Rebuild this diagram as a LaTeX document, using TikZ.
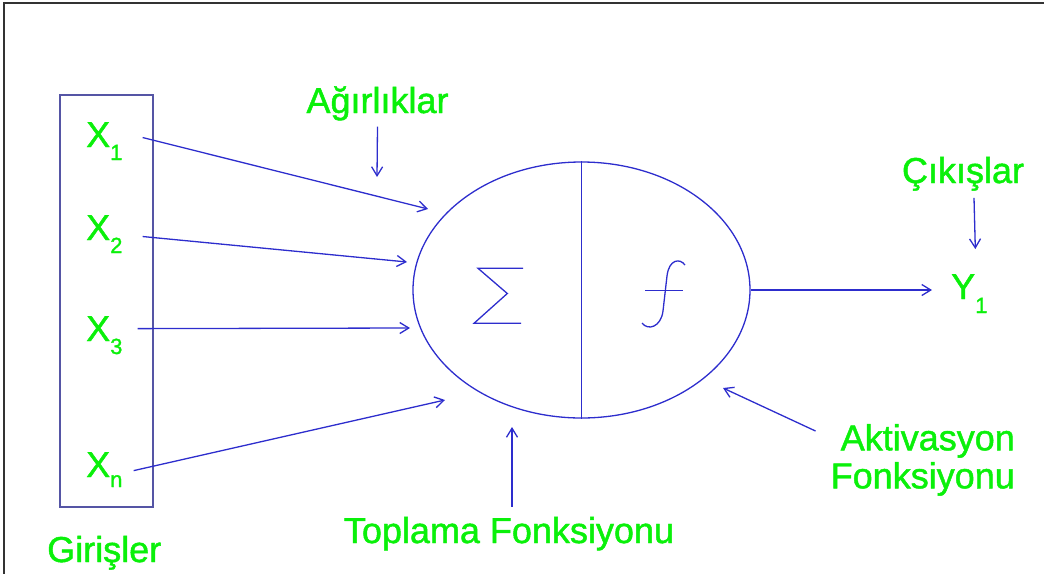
\documentclass[tikz,border=0pt]{standalone}
\usepackage{fontspec}
\setmainfont{Liberation Sans}
\newfontfamily\lblfam[FakeBold=1.3]{Liberation Sans}
\usetikzlibrary{arrows.meta,shapes.geometric,calc}
\definecolor{ngreen}{RGB}{10,240,10}
\definecolor{nblue}{RGB}{45,45,205}
\definecolor{boxc}{RGB}{85,85,165}
\newcommand\lblfont{\lblfam\fontsize{36}{38}\selectfont}
\newcommand\sbs[2]{\raisebox{-#1pt}{\fontsize{22}{22}\selectfont #2}}
\begin{document}
\begin{tikzpicture}[x=1pt,y=-1pt,
  lab/.style={text=ngreen, font=\lblfont, inner sep=0pt},
  wire/.style={draw=nblue, line width=1.3pt},
  conn/.style={wire, -{Straight Barb[length=9pt,width=11pt,line width=1.3pt]}},
  glyph/.style={draw=nblue, line width=1.3pt, line join=miter}]
\useasboundingbox (0,0) rectangle (1044,574);
% frame
\draw[black!80, line width=1.5pt] (1044,3) -- (4,3) -- (4,574);
% input box
\draw[boxc, line width=1.2pt] (60,95) rectangle (153,507);
\node[lab, anchor=base west] (x1) at (86,147) {X\sbs{13}{1}};
\node[lab, anchor=base west] (x2) at (86,240) {X\sbs{13}{2}};
\node[lab, anchor=base west] (x3) at (86,341) {X\sbs{13}{3}};
\node[lab, anchor=base west] (xn) at (86,477) {X\sbs{10}{n}};
\node[lab, anchor=base west] (gir) at (47,562) {Girişler};
% neuron
\node[ellipse, draw=nblue, line width=1.3pt, minimum width=337pt, minimum height=256pt, inner sep=0pt] (neuron) at (581.5,290) {};
\draw[wire] (neuron.north) -- (neuron.south);
% sigma
\draw[glyph] (523,268.3) -- (478,268.3) -- (507.3,293.5) -- (474,323.3) -- (521,323.3);
% f
\draw[glyph, line join=round] (685,265) .. controls (680,258) and (669,259) .. (667,276) -- (663,311) .. controls (661,327) and (648,331) .. (642,323);
\draw[glyph] (645,290.7) -- (682.7,290.7);
% input connectors
\coordinate (t1) at (428,209);
\coordinate (t2) at (407,262);
\coordinate (t3) at (410,328);
\coordinate (tn) at (445,400);
\draw[conn] ($(x1.east)+(20,-3.6)$) -- (t1);
\draw[conn] ($(x2.east)+(20,2.4)$) -- (t2);
\draw[conn] ($(x3.east)+(15,-6.6)$) -- (t3);
\draw[conn] ($(xn.east)+(11,1)$) -- (tn);
% output
\node[lab, anchor=base west] (y1) at (951,299) {Y\sbs{14}{1}};
\draw[conn] (neuron.east) -- ($(neuron.east -| y1.west)+(-19,0)$);
% labels
\node[lab, anchor=base] (agr) at (377.5,113) {Ağırlıklar};
\coordinate (agrtip) at (377,177);
\draw[conn] ($(agr.south)+(0,6)$) -- (agrtip);
\node[lab, anchor=base] (cik) at (963,183) {Çıkışlar};
\draw[conn] ($(cik.south)+(11,7)$) -- ($(y1.north)+(6,-25)$);
\node[lab, anchor=base] (top) at (509,543) {Toplama Fonksiyonu};
\coordinate (toptip) at (512,427);
\draw[conn] ($(top.north)+(3,-10)$) -- (toptip);
\node[lab, align=right, anchor=north east] (akt) at (1015,424) {Aktivasyon\\Fonksiyonu};
\coordinate (akttip) at (723,388);
\draw[conn] ($(akt.north west)+(-15,7)$) -- (akttip);
\end{tikzpicture}
\end{document}
